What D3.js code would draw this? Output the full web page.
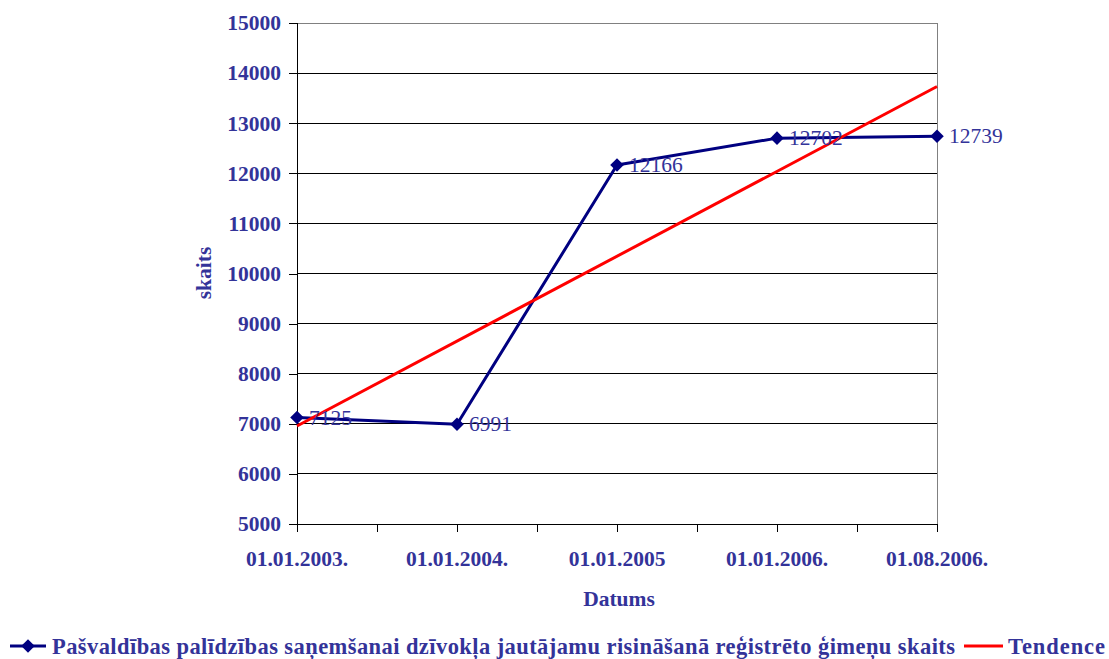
<!DOCTYPE html>
<html>
<head>
<meta charset="utf-8">
<script src="https://cdn.jsdelivr.net/npm/d3@7"></script>
<style>
  html, body { margin: 0; padding: 0; background: #fff; }
  svg { display: block; }
  text { font-family: "Liberation Serif", "Times New Roman", serif; fill: #333399; }
</style>
</head>
<body>
<svg id="chart" width="1109" height="659"></svg>
<script>
// Registered families (count) by date
const categories = ["01.01.2003.", "01.01.2004.", "01.01.2005", "01.01.2006.", "01.08.2006."];
const familyCounts = [7125, 6991, 12166, 12702, 12739];
// Linear trend line: values at the first and last category
const trendValues = [6957, 13732];
const yTicks = [5000, 6000, 7000, 8000, 9000, 10000, 11000, 12000, 13000, 14000, 15000];

const seriesName = "Pašvaldības palīdzības saņemšanai dzīvokļa jautājamu risināšanā reģistrēto ģimeņu skaits";
const trendName = "Tendence";

const svg = d3.select("#chart");
const plotLeft = 297, plotRight = 937, plotTop = 23, plotBottom = 524;
const fs = 21.5;

const x = d3.scalePoint().domain(categories).range([plotLeft, plotRight]).padding(0);
const y = d3.scaleLinear().domain([5000, 15000]).range([plotBottom, plotTop]);

// horizontal gridlines
svg.append("g").selectAll("line").data(yTicks).join("line")
  .attr("x1", plotLeft).attr("x2", plotRight)
  .attr("y1", d => y(d)).attr("y2", d => y(d))
  .attr("stroke", d => d === 15000 ? "#808080" : "#000").attr("stroke-width", 1)
  .attr("shape-rendering", "crispEdges");

// right border of plot area
svg.append("line").attr("x1", plotRight).attr("x2", plotRight).attr("y1", plotTop).attr("y2", plotBottom)
  .attr("stroke", "#808080").attr("shape-rendering", "crispEdges");

// y axis
const yAxis = d3.axisLeft(y).tickValues(yTicks).tickSize(8).tickPadding(8).tickFormat(d3.format("d"));
const gy = svg.append("g").attr("transform", `translate(${plotLeft},0)`).call(yAxis);
gy.select(".domain").attr("stroke", "#000").attr("shape-rendering", "crispEdges");
gy.selectAll(".tick line").attr("stroke", "#000").attr("shape-rendering", "crispEdges");
gy.selectAll("text").attr("font-size", fs).attr("font-weight", "bold")
  .attr("font-family", "Liberation Serif, serif").attr("fill", "#333399");

// x axis: ticks at categories and midway between them
const step = x.step();
const xTickPos = [];
categories.forEach((c, i) => {
  xTickPos.push(x(c));
  if (i < categories.length - 1) xTickPos.push(x(c) + step / 2);
});
svg.append("line").attr("x1", plotLeft).attr("x2", plotRight).attr("y1", plotBottom).attr("y2", plotBottom)
  .attr("stroke", "#000").attr("shape-rendering", "crispEdges");
svg.append("g").selectAll("line").data(xTickPos).join("line")
  .attr("x1", d => d).attr("x2", d => d).attr("y1", plotBottom).attr("y2", plotBottom + 8)
  .attr("stroke", "#000").attr("shape-rendering", "crispEdges");
svg.append("g").selectAll("text").data(categories).join("text")
  .attr("x", d => x(d)).attr("y", 566).attr("text-anchor", "middle")
  .attr("font-size", fs).attr("font-weight", "bold").text(d => d);

// axis titles
svg.append("text").attr("x", 619).attr("y", 606).attr("text-anchor", "middle")
  .attr("font-size", fs).attr("font-weight", "bold").text("Datums");
svg.append("text").attr("transform", "translate(211,273) rotate(-90)").attr("text-anchor", "middle")
  .attr("font-size", fs).attr("font-weight", "bold").text("skaits");

// data series
const pts = categories.map((c, i) => ({ c, v: familyCounts[i] }));
const line = d3.line().x(d => x(d.c)).y(d => y(d.v));
svg.append("path").datum(pts).attr("d", line)
  .attr("fill", "none").attr("stroke", "#000080").attr("stroke-width", 3).attr("stroke-linejoin", "round");

// trend line
const trendPts = [{ c: categories[0], v: trendValues[0] }, { c: categories[categories.length - 1], v: trendValues[1] }];
svg.append("path").datum(trendPts).attr("d", line)
  .attr("fill", "none").attr("stroke", "#ff0000").attr("stroke-width", 3);

// diamond markers (square turned 45°)
const marker = d3.symbol().type(d3.symbolSquare).size(92);
svg.append("g").selectAll("path").data(pts).join("path")
  .attr("d", marker)
  .attr("transform", d => `translate(${x(d.c)},${y(d.v)}) rotate(45)`)
  .attr("fill", "#000080");

// value labels
svg.append("g").selectAll("text").data(pts).join("text")
  .attr("x", d => x(d.c) + 12).attr("y", d => y(d.v) + 7)
  .attr("font-size", fs).text(d => d.v);

// legend
const ly = 646;
svg.append("line").attr("x1", 10).attr("x2", 46).attr("y1", ly).attr("y2", ly)
  .attr("stroke", "#000080").attr("stroke-width", 3);
svg.append("path").attr("d", marker)
  .attr("transform", `translate(28,${ly}) rotate(45)`).attr("fill", "#000080");
svg.append("text").attr("x", 52).attr("y", 654).attr("font-size", 22.5).attr("font-weight", "bold")
  .attr("textLength", 903).attr("lengthAdjust", "spacing")
  .text(seriesName);
svg.append("line").attr("x1", 964).attr("x2", 1003).attr("y1", ly).attr("y2", ly)
  .attr("stroke", "#ff0000").attr("stroke-width", 3);
svg.append("text").attr("x", 1008).attr("y", 654).attr("font-size", 22.5).attr("font-weight", "bold")
  .attr("textLength", 97).attr("lengthAdjust", "spacing")
  .text(trendName);
</script>
</body>
</html>
